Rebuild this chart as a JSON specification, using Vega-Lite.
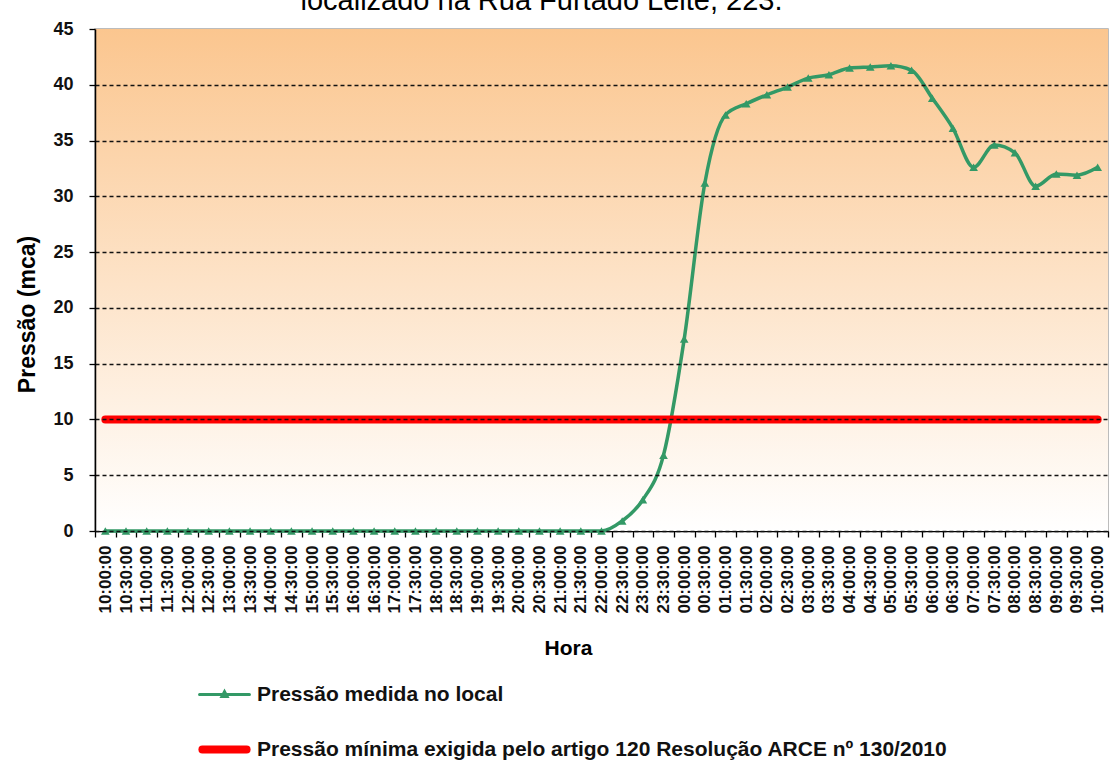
{
  "$schema": "https://vega.github.io/schema/vega-lite/v6.json",
  "width": 1013,
  "height": 502,
  "autosize": {"type": "none"},
  "padding": {"left": 95, "top": 29, "right": 5, "bottom": 231},
  "background": "white",
  "title": {
    "text": "localizado na Rua Furtado Leite, 223.",
    "font": "Liberation Sans",
    "fontSize": 29,
    "fontWeight": "normal",
    "color": "#000000",
    "anchor": "middle",
    "dx": -60,
    "dy": 19,
    "baseline": "alphabetic",
    "offset": 0
  },
  "config": {
    "view": {"stroke": "#a6a6a6", "strokeWidth": 1.5},
    "font": "Liberation Sans",
    "axisX": {
      "labelAngle": -90,
      "labelFontSize": 17,
      "labelFontWeight": "bold",
      "labelColor": "#111111",
      "labelAlign": "right",
      "labelBaseline": "middle",
      "labelPadding": 8,
      "tickBand": "extent",
      "tickSize": 6,
      "tickColor": "#000000",
      "tickWidth": 1.3,
      "domainColor": "#000000",
      "domainWidth": 1.5,
      "grid": false,
      "titleFontSize": 21,
      "titleFontWeight": "bold",
      "titleColor": "#000000",
      "titlePadding": 24,
      "titleX": 473,
      "zindex": 1
    },
    "axisY": {
      "labelFontSize": 18,
      "labelFontWeight": "bold",
      "labelColor": "#111111",
      "labelPadding": 16,
      "tickSize": 6,
      "tickColor": "#000000",
      "tickWidth": 1.3,
      "domainColor": "#000000",
      "domainWidth": 1.5,
      "grid": true,
      "gridColor": "#111111",
      "gridDash": [4, 3],
      "gridWidth": 1.5,
      "titleFontSize": 23,
      "titleFontWeight": "bold",
      "titleColor": "#000000",
      "titlePadding": 13,
      "titleY": 285,
      "zindex": 1
    }
  },
  "data": {
    "values": [
      {"hora": "2010-01-01 10:00:00", "pressao": 0, "minima": 10},
      {"hora": "2010-01-01 10:30:00", "pressao": 0, "minima": 10},
      {"hora": "2010-01-01 11:00:00", "pressao": 0, "minima": 10},
      {"hora": "2010-01-01 11:30:00", "pressao": 0, "minima": 10},
      {"hora": "2010-01-01 12:00:00", "pressao": 0, "minima": 10},
      {"hora": "2010-01-01 12:30:00", "pressao": 0, "minima": 10},
      {"hora": "2010-01-01 13:00:00", "pressao": 0, "minima": 10},
      {"hora": "2010-01-01 13:30:00", "pressao": 0, "minima": 10},
      {"hora": "2010-01-01 14:00:00", "pressao": 0, "minima": 10},
      {"hora": "2010-01-01 14:30:00", "pressao": 0, "minima": 10},
      {"hora": "2010-01-01 15:00:00", "pressao": 0, "minima": 10},
      {"hora": "2010-01-01 15:30:00", "pressao": 0, "minima": 10},
      {"hora": "2010-01-01 16:00:00", "pressao": 0, "minima": 10},
      {"hora": "2010-01-01 16:30:00", "pressao": 0, "minima": 10},
      {"hora": "2010-01-01 17:00:00", "pressao": 0, "minima": 10},
      {"hora": "2010-01-01 17:30:00", "pressao": 0, "minima": 10},
      {"hora": "2010-01-01 18:00:00", "pressao": 0, "minima": 10},
      {"hora": "2010-01-01 18:30:00", "pressao": 0, "minima": 10},
      {"hora": "2010-01-01 19:00:00", "pressao": 0, "minima": 10},
      {"hora": "2010-01-01 19:30:00", "pressao": 0, "minima": 10},
      {"hora": "2010-01-01 20:00:00", "pressao": 0, "minima": 10},
      {"hora": "2010-01-01 20:30:00", "pressao": 0, "minima": 10},
      {"hora": "2010-01-01 21:00:00", "pressao": 0, "minima": 10},
      {"hora": "2010-01-01 21:30:00", "pressao": 0, "minima": 10},
      {"hora": "2010-01-01 22:00:00", "pressao": 0, "minima": 10},
      {"hora": "2010-01-01 22:30:00", "pressao": 0.9, "minima": 10},
      {"hora": "2010-01-01 23:00:00", "pressao": 2.8, "minima": 10},
      {"hora": "2010-01-01 23:30:00", "pressao": 6.8, "minima": 10},
      {"hora": "2010-01-02 00:00:00", "pressao": 17.2, "minima": 10},
      {"hora": "2010-01-02 00:30:00", "pressao": 31.2, "minima": 10},
      {"hora": "2010-01-02 01:00:00", "pressao": 37.3, "minima": 10},
      {"hora": "2010-01-02 01:30:00", "pressao": 38.3, "minima": 10},
      {"hora": "2010-01-02 02:00:00", "pressao": 39.1, "minima": 10},
      {"hora": "2010-01-02 02:30:00", "pressao": 39.8, "minima": 10},
      {"hora": "2010-01-02 03:00:00", "pressao": 40.6, "minima": 10},
      {"hora": "2010-01-02 03:30:00", "pressao": 40.9, "minima": 10},
      {"hora": "2010-01-02 04:00:00", "pressao": 41.5, "minima": 10},
      {"hora": "2010-01-02 04:30:00", "pressao": 41.6, "minima": 10},
      {"hora": "2010-01-02 05:00:00", "pressao": 41.7, "minima": 10},
      {"hora": "2010-01-02 05:30:00", "pressao": 41.3, "minima": 10},
      {"hora": "2010-01-02 06:00:00", "pressao": 38.8, "minima": 10},
      {"hora": "2010-01-02 06:30:00", "pressao": 36.1, "minima": 10},
      {"hora": "2010-01-02 07:00:00", "pressao": 32.6, "minima": 10},
      {"hora": "2010-01-02 07:30:00", "pressao": 34.6, "minima": 10},
      {"hora": "2010-01-02 08:00:00", "pressao": 33.9, "minima": 10},
      {"hora": "2010-01-02 08:30:00", "pressao": 30.9, "minima": 10},
      {"hora": "2010-01-02 09:00:00", "pressao": 32.0, "minima": 10},
      {"hora": "2010-01-02 09:30:00", "pressao": 31.9, "minima": 10},
      {"hora": "2010-01-02 10:00:00", "pressao": 32.6, "minima": 10}
    ]
  },
  "layer": [
    {
      "data": {"values": [{"topo": 45, "base": 0}]},
      "mark": {
        "type": "rect",
        "color": {
          "gradient": "linear",
          "x1": 0, "y1": 0, "x2": 0, "y2": 1,
          "stops": [
            {"offset": 0, "color": "#FBC68F"},
            {"offset": 1, "color": "#FFFFFF"}
          ]
        }
      },
      "encoding": {
        "y": {"field": "topo", "type": "quantitative", "scale": {"domain": [0, 45]}, "axis": {"title": "Pressão (mca)", "values": [0, 5, 10, 15, 20, 25, 30, 35, 40, 45], "grid": true, "zindex": 1, "gridOpacity": {"condition": {"test": "datum.value >= 45", "value": 0}, "value": 1}}},
        "y2": {"field": "base"}
      }
    },
    {
      "mark": {
        "type": "line",
        "interpolate": "monotone",
        "strokeWidth": 3.5,
        "point": {"shape": "triangle-up", "size": 75, "filled": true}
      },
      "encoding": {
        "x": {
          "field": "hora",
          "type": "ordinal",
          "sort": null,
          "bandPosition": 0.5,
          "scale": {"type": "band", "paddingInner": 0, "paddingOuter": 0},
          "axis": {"title": "Hora", "labelExpr": "slice(datum.label, 11)"}
        },
        "y": {"field": "pressao", "type": "quantitative", "axis": {"title": "Pressão (mca)"}},
        "color": {
          "datum": "Pressão medida no local",
          "type": "nominal",
          "scale": {
            "domain": ["Pressão medida no local", "Pressão mínima exigida pelo artigo 120 Resolução ARCE nº 130/2010"],
            "range": ["#339966", "#FF0000"]
          },
          "legend": {
            "orient": "none",
            "legendX": 119,
            "legendY": 655,
            "title": null,
            "padding": 0,
            "labelFont": "Liberation Sans",
            "labelFontSize": 21,
            "labelFontWeight": "bold",
            "labelColor": "#111111",
            "labelLimit": 0,
            "labelOffset": 22,
            "symbolSize": 2704,
            "rowPadding": 28,
            "encode": {
              "symbols": {
                "update": {
                  "shape": {"signal": "datum.index === 0 ? 'M-0.96,0L0.96,0M-0.1,0.08L0,-0.11L0.1,0.08Z' : 'M-0.85,0L0.85,0'"},
                  "strokeWidth": {"signal": "datum.index === 0 ? 3 : 8"},
                  "strokeCap": {"value": "round"},
                  "fill": {"scale": "color", "field": "value"},
                  "stroke": {"scale": "color", "field": "value"},
                  "opacity": {"value": 1}
                }
              }
            }
          }
        }
      }
    },
    {
      "mark": {"type": "line", "strokeWidth": 8, "strokeCap": "round"},
      "encoding": {
        "x": {"field": "hora", "type": "ordinal", "sort": null, "bandPosition": 0.5},
        "y": {"field": "minima", "type": "quantitative", "axis": {"title": "Pressão (mca)"}},
        "color": {"datum": "Pressão mínima exigida pelo artigo 120 Resolução ARCE nº 130/2010", "type": "nominal"}
      }
    }
  ]
}
